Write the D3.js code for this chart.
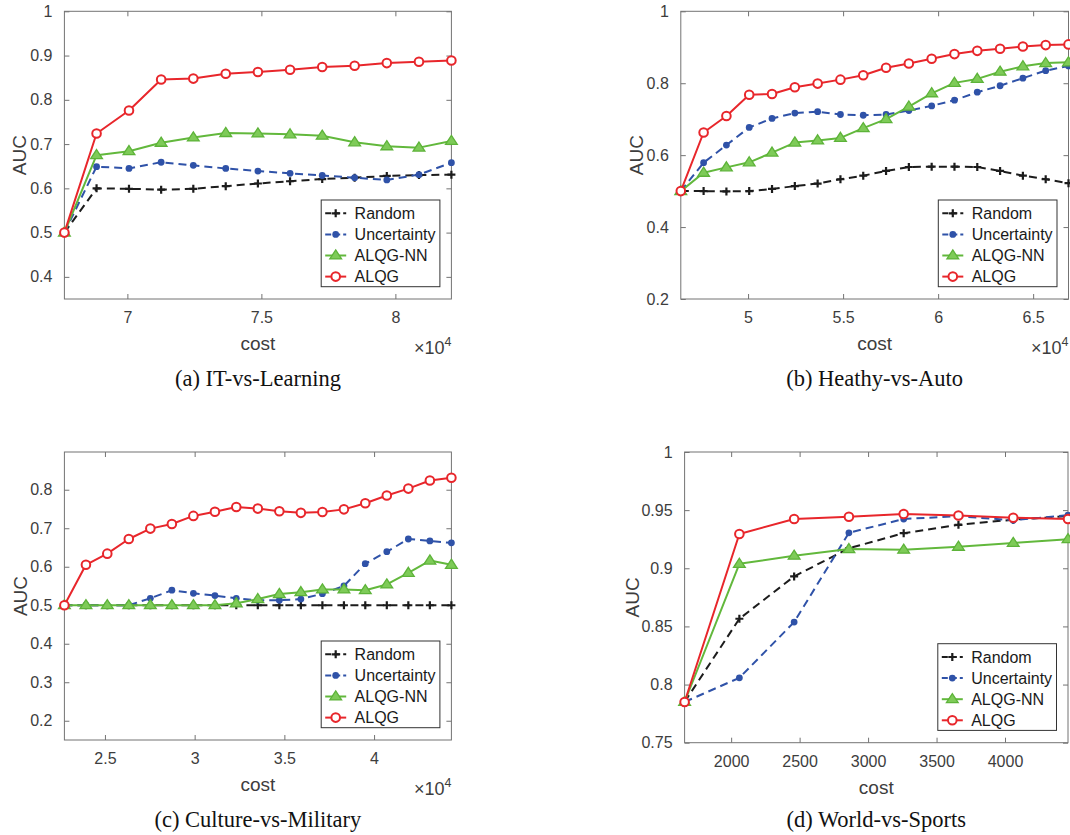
<!DOCTYPE html>
<html>
<head>
<meta charset="utf-8">
<script src="https://cdn.jsdelivr.net/npm/d3@7/dist/d3.min.js"></script>
<style>
  html, body { margin: 0; padding: 0; background: #ffffff; }
  svg { display: block; }
</style>
</head>
<body>
<svg id="chart" width="1070" height="835"></svg>
<script>
// ---------------- DATA ----------------
const seriesNames = ["Random", "Uncertainty", "ALQG-NN", "ALQG"];

// (a) IT-vs-Learning
const costA = [67650, 68850, 70060, 71260, 72460, 73670, 74870, 76070, 77270, 78480, 79680, 80880, 82090];
const randomA = [0.5, 0.600, 0.599, 0.597, 0.599, 0.605, 0.611, 0.616, 0.621, 0.624, 0.628, 0.630, 0.631];
const uncertaintyA = [0.5, 0.649, 0.645, 0.659, 0.652, 0.645, 0.639, 0.634, 0.629, 0.624, 0.619, 0.631, 0.658];
const alqgnnA = [0.5, 0.675, 0.684, 0.703, 0.715, 0.725, 0.724, 0.722, 0.719, 0.704, 0.695, 0.692, 0.707];
const alqgA = [0.5, 0.724, 0.776, 0.846, 0.848, 0.859, 0.863, 0.868, 0.874, 0.877, 0.883, 0.886, 0.889];
const yTicksA = [0.4, 0.5, 0.6, 0.7, 0.8, 0.9, 1];
const xTicksA = [70000, 75000, 80000];

// (b) Heathy-vs-Auto
const costB = [46460, 47660, 48860, 50060, 51260, 52460, 53660, 54860, 56060, 57260, 58460, 59660, 60860, 62060, 63260, 64460, 65660, 66860];
const randomB = [0.5, 0.5, 0.499, 0.5, 0.506, 0.514, 0.521, 0.533, 0.543, 0.556, 0.567, 0.568, 0.568, 0.567, 0.556, 0.543, 0.533, 0.522];
const uncertaintyB = [0.5, 0.579, 0.628, 0.677, 0.702, 0.717, 0.721, 0.713, 0.711, 0.713, 0.724, 0.737, 0.753, 0.775, 0.793, 0.814, 0.835, 0.848];
const alqgnnB = [0.5, 0.551, 0.566, 0.580, 0.607, 0.635, 0.641, 0.648, 0.675, 0.700, 0.735, 0.772, 0.801, 0.812, 0.832, 0.847, 0.856, 0.858];
const alqgB = [0.5, 0.663, 0.709, 0.768, 0.770, 0.789, 0.799, 0.810, 0.822, 0.843, 0.855, 0.868, 0.881, 0.890, 0.896, 0.902, 0.906, 0.908];
const yTicksB = [0.2, 0.4, 0.6, 0.8, 1];
const xTicksB = [50000, 55000, 60000, 65000];

// (c) Culture-vs-Military
const costC = [22740, 23940, 25130, 26330, 27530, 28730, 29930, 31130, 32320, 33520, 34720, 35920, 37120, 38320, 39510, 40710, 41910, 43110, 44310];
const randomC = [0.5, 0.5, 0.5, 0.5, 0.5, 0.5, 0.5, 0.5, 0.5, 0.5, 0.5, 0.5, 0.5, 0.5, 0.5, 0.5, 0.5, 0.5, 0.5];
const uncertaintyC = [0.5, 0.5, 0.5, 0.5, 0.518, 0.539, 0.531, 0.525, 0.518, 0.513, 0.513, 0.516, 0.530, 0.550, 0.608, 0.639, 0.672, 0.667, 0.662];
const alqgnnC = [0.5, 0.5, 0.5, 0.5, 0.5, 0.5, 0.5, 0.5, 0.505, 0.516, 0.529, 0.534, 0.541, 0.541, 0.539, 0.554, 0.584, 0.616, 0.605];
const alqgC = [0.5, 0.605, 0.634, 0.672, 0.699, 0.711, 0.732, 0.743, 0.755, 0.751, 0.744, 0.740, 0.742, 0.749, 0.765, 0.785, 0.803, 0.824, 0.831];
const yTicksC = [0.2, 0.3, 0.4, 0.5, 0.6, 0.7, 0.8];
const xTicksC = [25000, 30000, 35000, 40000];

// (d) World-vs-Sports
const costD = [1660, 2060, 2460, 2860, 3260, 3660, 4060, 4460];
const randomD = [0.785, 0.8566, 0.8930, 0.9172, 0.9302, 0.9374, 0.9418, 0.9448];
const uncertaintyD = [0.785, 0.8058, 0.8537, 0.9305, 0.9424, 0.9448, 0.9413, 0.9457];
const alqgnnD = [0.785, 0.9038, 0.9108, 0.9165, 0.9160, 0.9185, 0.9218, 0.9250];
const alqgD = [0.785, 0.9295, 0.9424, 0.9443, 0.9467, 0.9454, 0.9434, 0.9424];
const yTicksD = [0.75, 0.8, 0.85, 0.9, 0.95, 1];
const xTicksD = [2000, 2500, 3000, 3500, 4000];

const captions = ["(a) IT-vs-Learning", "(b) Heathy-vs-Auto", "(c) Culture-vs-Military", "(d) World-vs-Sports"];

// ---------------- LAYOUT / STYLE ----------------
const panels = [
  { cost: costA, series: [randomA, uncertaintyA, alqgnnA, alqgA], yDomain: [0.35, 1], yTicks: yTicksA, xTicks: xTicksA,
    sci: true, box: { l: 64.4, r: 451.4, t: 11.3, b: 299 }, aucOff: 38, capY: 386, caption: captions[0] },
  { cost: costB, series: [randomB, uncertaintyB, alqgnnB, alqgB], yDomain: [0.2, 1], yTicks: yTicksB, xTicks: xTicksB,
    sci: true, box: { l: 680.8, r: 1068.5, t: 11.3, b: 299 }, aucOff: 37.5, capY: 386, caption: captions[1] },
  { cost: costC, series: [randomC, uncertaintyC, alqgnnC, alqgC], yDomain: [0.15, 0.898], yTicks: yTicksC, xTicks: xTicksC,
    sci: true, box: { l: 64.4, r: 451.4, t: 452, b: 740 }, aucOff: 37.5, capY: 827, caption: captions[2] },
  { cost: costD, series: [randomD, uncertaintyD, alqgnnD, alqgD], yDomain: [0.75, 1], yTicks: yTicksD, xTicks: xTicksD,
    sci: false, box: { l: 684.6, r: 1068, t: 452, b: 742.7 }, aucOff: 46, capY: 827, caption: captions[3] }
];

const styles = [
  { color: "#1c1c1c", dash: "8,5", marker: "plus" },
  { color: "#2f52a8", dash: "8,5", marker: "dot" },
  { color: "#62b83c", dash: null, marker: "tri" },
  { color: "#e8262b", dash: null, marker: "circle" }
];

const SANS = "'Liberation Sans', Arial, Helvetica, sans-serif";
const SERIF = "'Liberation Serif', 'Times New Roman', serif";
const axisColor = "#737373";
const textColor = "#3d3d3d";

const svg = d3.select("#chart");
svg.append("rect").attr("width", 1070).attr("height", 835).attr("fill", "#fff");

function drawMarker(g, type, x, y, color) {
  if (type === "plus") {
    const s = 4;
    g.append("path").attr("d", `M${x - s},${y}H${x + s}M${x},${y - s}V${y + s}`)
      .attr("stroke", color).attr("stroke-width", 2.2).attr("fill", "none");
  } else if (type === "dot") {
    g.append("circle").attr("cx", x).attr("cy", y).attr("r", 3.4).attr("fill", color);
  } else if (type === "tri") {
    const s = 5.6;
    g.append("path").attr("d", `M${x},${y - s}L${x + s * 1.05},${y + s * 0.62}L${x - s * 1.05},${y + s * 0.62}Z`)
      .attr("fill", "#7ecb58").attr("stroke", "#5db339").attr("stroke-width", 1.3);
  } else if (type === "circle") {
    g.append("circle").attr("cx", x).attr("cy", y).attr("r", 4.3)
      .attr("fill", "#fff").attr("stroke", color).attr("stroke-width", 2);
  }
}

panels.forEach((p) => {
  const { l, r, t, b } = p.box;
  const x = d3.scaleLinear().domain([p.cost[0], p.cost[p.cost.length - 1]]).range([l, r]);
  const y = d3.scaleLinear().domain(p.yDomain).range([b, t]);
  const g = svg.append("g");

  // Frame
  g.append("rect").attr("x", l).attr("y", t).attr("width", r - l).attr("height", b - t)
    .attr("fill", "none").attr("stroke", axisColor).attr("stroke-width", 1);

  // Axes via d3 (labels), ticks drawn inward
  const xfmt = p.sci ? (d => d3.format("")(+(d / 1e4).toFixed(2))) : d3.format("d");
  const xAxis = d3.axisBottom(x).tickValues(p.xTicks).tickSize(-5).tickPadding(13).tickFormat(xfmt);
  const gx = g.append("g").attr("transform", `translate(0,${b})`).call(xAxis);
  const xAxisTop = d3.axisTop(x).tickValues(p.xTicks).tickSize(-5).tickFormat("");
  const gxt = g.append("g").attr("transform", `translate(0,${t})`).call(xAxisTop);

  const yAxis = d3.axisLeft(y).tickValues(p.yTicks).tickSize(-5).tickPadding(12).tickFormat(d => d3.format("")(+d.toFixed(2)));
  const gy = g.append("g").attr("transform", `translate(${l},0)`).call(yAxis);
  const yAxisR = d3.axisRight(y).tickValues(p.yTicks).tickSize(-5).tickFormat("");
  const gyr = g.append("g").attr("transform", `translate(${r},0)`).call(yAxisR);

  [gx, gxt, gy, gyr].forEach(ax => {
    ax.select(".domain").remove();
    ax.selectAll(".tick line").attr("stroke", axisColor).attr("stroke-width", 1);
    ax.selectAll("text").attr("fill", textColor).style("font-family", SANS).style("font-size", "16px");
  });
  gx.selectAll("text").attr("dy", "0.71em");

  // Axis labels
  g.append("text").attr("transform", `translate(${l - p.aucOff},${(t + b) / 2}) rotate(-90)`)
    .attr("text-anchor", "middle").attr("fill", textColor)
    .style("font-family", SANS).style("font-size", "19px").text("AUC");
  g.append("text").attr("x", (l + r) / 2).attr("y", b + 51)
    .attr("text-anchor", "middle").attr("fill", textColor)
    .style("font-family", SANS).style("font-size", "19px").text("cost");
  if (p.sci) {
    const tx = g.append("text").attr("x", r).attr("y", b + 55).attr("text-anchor", "end")
      .attr("fill", textColor).style("font-family", SANS).style("font-size", "18px");
    tx.append("tspan").text("\u00d710");
    tx.append("tspan").attr("dy", -8).style("font-size", "12.5px").text("4");
  }

  // Series lines and markers
  p.series.forEach((vals, si) => {
    const st = styles[si];
    const pts = vals.map((v, i) => [x(p.cost[i]), y(v)]);
    const line = d3.line();
    g.append("path").attr("d", line(pts)).attr("fill", "none")
      .attr("stroke", st.color).attr("stroke-width", 2)
      .attr("stroke-dasharray", st.dash).attr("stroke-linejoin", "round");
    const mg = g.append("g");
    pts.forEach(([px, py]) => drawMarker(mg, st.marker, px, py, st.color));
  });

  // Legend
  const lw = 118.7, lh = 86.7;
  const lx = r - 11.5 - lw, ly = b - 12.3 - lh;
  const lg = g.append("g").attr("transform", `translate(${lx},${ly})`);
  lg.append("rect").attr("width", lw).attr("height", lh).attr("fill", "#fff")
    .attr("stroke", "#333").attr("stroke-width", 1);
  seriesNames.forEach((name, si) => {
    const st = styles[si];
    const ry = 13.3 + si * 21.1;
    lg.append("line").attr("x1", 4).attr("x2", 25).attr("y1", ry).attr("y2", ry)
      .attr("stroke", st.color).attr("stroke-width", 2).attr("stroke-dasharray", st.dash ? "6,3" : null);
    drawMarker(lg, st.marker, 14.5, ry, st.color);
    lg.append("text").attr("x", 33.4).attr("y", ry).attr("dy", "0.36em")
      .attr("fill", "#1a1a1a").style("font-family", SANS).style("font-size", "16px").text(name);
  });

  // Caption
  svg.append("text").attr("x", (l + r) / 2).attr("y", p.capY).attr("text-anchor", "middle")
    .attr("fill", "#111").style("font-family", SERIF).style("font-size", "22.5px").text(p.caption);
});
</script>
</body>
</html>
